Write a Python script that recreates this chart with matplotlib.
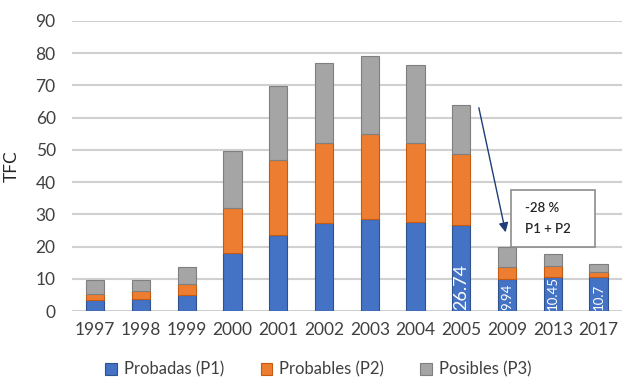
import numpy as np
import matplotlib.pyplot as plt
from matplotlib.patches import FancyBboxPatch

years = ["1997", "1998", "1999", "2000", "2001", "2002", "2003", "2004", "2005", "2009", "2013", "2017"]
p1 = [3.4, 3.7, 5.0, 18.0, 23.6, 27.2, 28.5, 27.5, 26.74, 9.94, 10.45, 10.7]
p2 = [2.0, 2.7, 3.4, 14.1, 23.2, 25.0, 26.4, 24.7, 22.0, 3.7, 3.6, 1.5]
p3 = [4.2, 3.2, 5.4, 17.6, 22.9, 24.8, 24.1, 24.1, 15.2, 6.1, 3.8, 2.4]
labeled = {"2005": "26.74", "2009": "9.94", "2013": "10.45", "2017": "10.7"}

plt.rcParams['font.family'] = ['Lato', 'DejaVu Sans']

fig = plt.figure(figsize=(6.24, 3.87), dpi=100)
ax = fig.add_axes([0.116, 0.196, 0.88, 0.75])

x = np.arange(len(years))
w = 0.4
p1 = np.array(p1)
p2 = np.array(p2)
p3 = np.array(p3)
ax.bar(x, p1, w, color="#4472C4", edgecolor="#2F528F", linewidth=0.8, label="Probadas (P1)", zorder=3)
ax.bar(x, p2, w, bottom=p1, color="#ED7D31", edgecolor="#C55A11", linewidth=0.8, label="Probables (P2)", zorder=3)
ax.bar(x, p3, w, bottom=p1 + p2, color="#A5A5A5", edgecolor="#7F7F7F", linewidth=0.8, label="Posibles (P3)", zorder=3)

# value labels inside the blue segment
for i, yr in enumerate(years):
    if yr in labeled:
        fs = 13 if yr == "2005" else 9.5
        ax.text(x[i], 0.5, labeled[yr], rotation=90, ha="center", va="bottom",
                color="white", fontsize=fs, zorder=4)

ax.set_xlim(-0.5, len(years) - 0.5)
ax.set_ylim(0, 90)
ax.set_yticks(range(0, 91, 10))
ax.set_xticks(x)
ax.set_xticklabels(years)
ax.tick_params(axis="both", length=0, labelsize=12.5, colors="#404040")
ax.tick_params(axis="y", pad=12)
ax.tick_params(axis="x", pad=8)
ax.grid(axis="y", color="#D0D0D0", linewidth=1.5, zorder=0)
for s in ax.spines.values():
    s.set_visible(False)
ax.set_ylabel("TFC", fontsize=12.5, color="#262626")
ax.yaxis.set_label_coords(-0.095, 0.5)

# arrow and note for the 2005 -> 2009 drop
ax.annotate("", xy=(8.98, 23.6), xytext=(8.37, 63.9),
            arrowprops=dict(arrowstyle="-|>", color="#1F3D7A", lw=1.0, mutation_scale=14),
            zorder=5)
box = FancyBboxPatch((9.09, 19.9), 1.84, 17.6, boxstyle="square,pad=0",
                     facecolor="white", edgecolor="#8C8C8C", linewidth=1.2, zorder=5)
ax.add_patch(box)
ax.text(9.4, 32.0, "-28 %", fontsize=9.5, fontweight="semibold", color="#262626", va="center", zorder=6)
ax.text(9.4, 25.5, "P1 + P2", fontsize=9.5, fontweight="semibold", color="#262626", va="center", zorder=6)

fig.legend(loc="lower center", bbox_to_anchor=(0.51, -0.015), ncol=3, frameon=False,
           fontsize=12, handlelength=0.7, handleheight=0.7, columnspacing=2.2,
           handletextpad=0.4, labelcolor="#404040")

fig.savefig("out.png", dpi=100)
